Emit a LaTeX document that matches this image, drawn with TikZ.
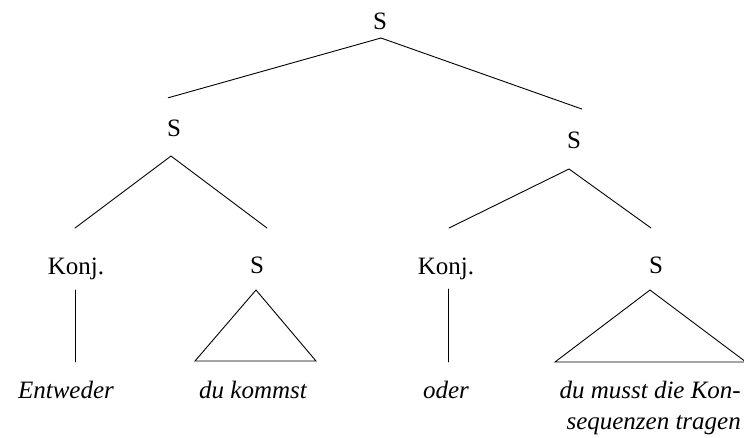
\documentclass[tikz,border=0pt]{standalone}
\usepackage{fontspec}
\setmainfont{Liberation Serif}
\begin{document}
\begin{tikzpicture}[x=1pt,y=-1pt,
  lab/.style={inner sep=0pt,anchor=base,font=\fontsize{25}{33}\selectfont},
  word/.style={lab,font=\fontsize{25}{33}\selectfont\itshape},
  branch/.style={line width=0.9pt,line cap=round}]
\useasboundingbox (0,0) rectangle (744,437);

% category labels
\node[lab] (s0) at (380,29) {S};
\node[lab] (s1) at (174,136) {S};
\node[lab] (s2) at (574,148) {S};
\node[lab] (k1) at (76,274) {Konj.};
\node[lab] (s3) at (257,273) {S};
\node[lab] (k2) at (446,274) {Konj.};
\node[lab] (s4) at (656,273) {S};

% terminal words
\node[word] (w1) at (66,398) {Entweder};
\node[word] (w2) at (253,398) {du kommst};
\node[word] (w3) at (446,398) {oder};
\node[word,anchor=base east] (w4a) at (741,398) {du musst die Kon-};
\node[word,anchor=base east] (w4b) at (741,429) {sequenzen tragen};

% branch points
\coordinate (a0) at (381,38);
\coordinate (a0l) at (171,97);
\coordinate (a0r) at (579,108);
\coordinate (a1) at (171,156);
\coordinate (a1l) at (75,228);
\coordinate (a1r) at (267,228);
\coordinate (a2) at (569,169);
\coordinate (a2l) at (449,228);
\coordinate (a2r) at (651,228);
\coordinate (t1) at (75,290);
\coordinate (b1) at (75,362);
\coordinate (t2) at (448,289);
\coordinate (b2) at (448,362);
\coordinate (p1) at (256,290);
\coordinate (p1l) at (195,361);
\coordinate (p1r) at (316,361);
\coordinate (p2) at (650,290);
\coordinate (p2l) at (555,362);
\coordinate (p2r) at (746,362);

% branches
\draw[branch,shorten <=-3pt] (a0l) -- (a0);
\draw[branch,shorten <=-3pt] (a0r) -- (a0);
\draw[branch] (a1l) -- (a1) -- (a1r);
\draw[branch] (a2l) -- (a2) -- (a2r);
\draw[branch] (t1) -- (b1);
\draw[branch] (t2) -- (b2);
\draw[branch,line join=miter] (p1) -- (p1l) -- (p1r) -- cycle;
\draw[branch,line join=miter] (p2) -- (p2l) -- (p2r) -- cycle;
\end{tikzpicture}
\end{document}
